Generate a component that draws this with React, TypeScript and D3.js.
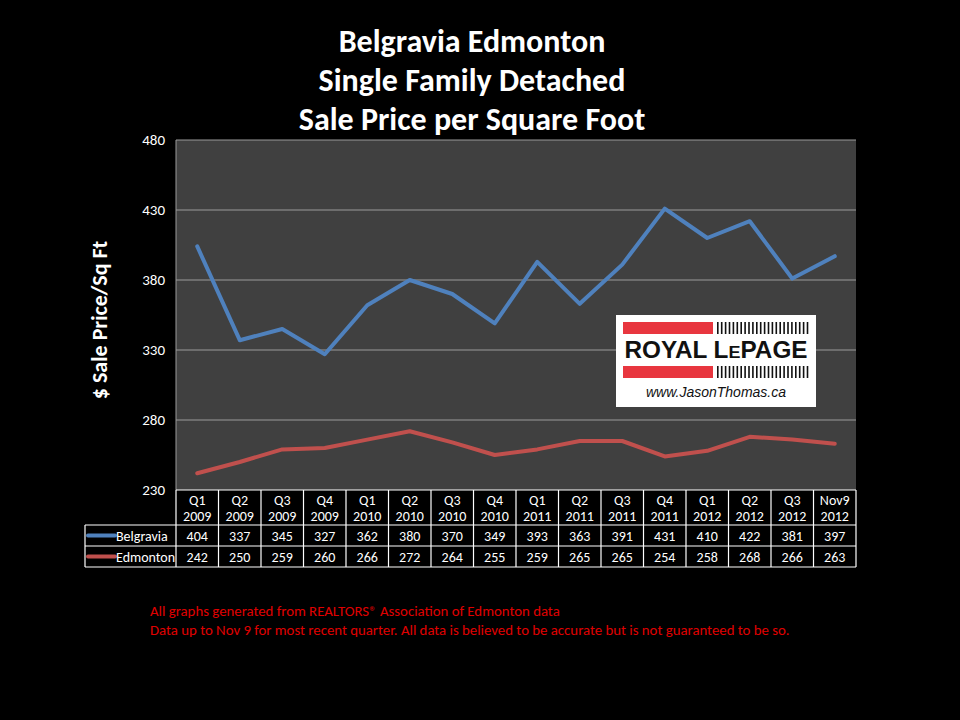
import * as d3 from 'd3'

const quarters = ['Q1', 'Q2', 'Q3', 'Q4', 'Q1', 'Q2', 'Q3', 'Q4', 'Q1', 'Q2', 'Q3', 'Q4', 'Q1', 'Q2', 'Q3', 'Nov9']
const years = ['2009', '2009', '2009', '2009', '2010', '2010', '2010', '2010', '2011', '2011', '2011', '2011', '2012', '2012', '2012', '2012']
const belgravia = [404, 337, 345, 327, 362, 380, 370, 349, 393, 363, 391, 431, 410, 422, 381, 397]
const edmonton = [242, 250, 259, 260, 266, 272, 264, 255, 259, 265, 265, 254, 258, 268, 266, 263]
const yTicks = [230, 280, 330, 380, 430, 480]

const series = [
  { name: 'Belgravia', values: belgravia, color: '#4F81BD' },
  { name: 'Edmonton', values: edmonton, color: '#C0504D' },
]

const titleLines = ['Belgravia Edmonton', 'Single Family Detached', 'Sale Price per Square Foot']
const notes = [
  'All graphs generated from REALTORS® Association of Edmonton data',
  'Data up to Nov 9  for most recent quarter. All data is believed to be accurate but is not guaranteed to be so.',
]

const font = 'Carlito, Calibri, "Open Sans", "Liberation Sans", sans-serif'

export default function App() {
  const W = 960
  const H = 720
  const left = 176
  const right = 856
  const top = 140
  const bottom = 490

  const labels = quarters.map((q, i) => `${q} ${years[i]} ${i}`)
  const x = d3.scaleBand().domain(labels).range([left, right])
  const y = d3.scaleLinear().domain([230, 480]).range([bottom, top])

  const line = d3
    .line<number>()
    .x((_, i) => (x(labels[i]) as number) + x.bandwidth() / 2)
    .y(d => y(d))

  const legendLeft = 85
  const headTop = bottom
  const headBottom = 525
  const rowH = 21

  return (
    <svg width={W} height={H} style={{ display: 'block', position: 'absolute', left: 0, top: 0, background: '#000' }}>
      <rect x={0} y={0} width={W} height={H} fill="#000" />
      {titleLines.map((t, i) => (
        <text key={t} x={472} y={52 + i * 39} textAnchor="middle" fill="#fff" fontFamily={font} fontWeight="bold" fontSize={32}>
          {t}
        </text>
      ))}

      {/* plot area */}
      <rect x={left} y={top} width={right - left} height={bottom - top} fill="#404040" />
      {yTicks.map(t => (
        <g key={t}>
          {t !== 230 && <line x1={left} x2={right} y1={y(t)} y2={y(t)} stroke="#9a9a9a" strokeWidth={1} />}
          <text x={165} y={y(t) + 5} textAnchor="end" fill="#fff" fontFamily={font} fontSize={15}>
            {t}
          </text>
        </g>
      ))}
      <line x1={left} x2={left} y1={top} y2={bottom} stroke="#9a9a9a" />

      {series.map(s => (
        <path key={s.name} d={line(s.values) ?? ''} fill="none" stroke={s.color} strokeWidth={4} strokeLinejoin="round" strokeLinecap="round" />
      ))}

      <text
        transform={`translate(107, 320) rotate(-90)`}
        textAnchor="middle"
        fill="#fff"
        fontFamily={font}
        fontWeight="bold"
        fontSize={22}
      >
        $ Sale Price/Sq Ft
      </text>

      {/* logo */}
      <g>
        <rect x={616} y={315} width={200} height={92} fill="#fff" />
        <rect x={623} y={322} width={90} height={12} fill="#E8363F" />
        <rect x={623} y={366} width={90} height={12} fill="#E8363F" />
        {d3.range(24).map(i => (
          <g key={i}>
            <rect x={717 + i * 3.9} y={322} width={1.6} height={12} fill="#111" />
            <rect x={717 + i * 3.9} y={366} width={1.6} height={12} fill="#111" />
          </g>
        ))}
        <text x={716} y={358} textAnchor="middle" fill="#111" fontFamily='"Liberation Sans", Arial, sans-serif' fontWeight="bold" fontSize={23} textLength={183} lengthAdjust="spacingAndGlyphs">
          ROYAL L<tspan fontSize={17}>E</tspan>PAGE
        </text>
        <text x={716} y={397} textAnchor="middle" fill="#111" fontFamily='"Liberation Sans", Arial, sans-serif' fontStyle="italic" fontSize={14}>
          www.JasonThomas.ca
        </text>
      </g>

      {/* data table */}
      <g fontFamily={font} fill="#fff">
        {labels.map((l, i) => {
          const cx = (x(l) as number) + x.bandwidth() / 2
          return (
            <g key={l}>
              <text x={cx} y={headTop + 15} textAnchor="middle" fontSize={14} fill="#fff">{quarters[i]}</text>
              <text x={cx} y={headTop + 31} textAnchor="middle" fontSize={14} fill="#fff">{years[i]}</text>
              {series.map((s, j) => (
                <text key={s.name} x={cx} y={headBottom + j * rowH + 15.5} textAnchor="middle" fontSize={14} fill="#fff">
                  {s.values[i]}
                </text>
              ))}
            </g>
          )
        })}
        {series.map((s, j) => (
          <g key={s.name}>
            <line x1={legendLeft + 3} x2={legendLeft + 30} y1={headBottom + j * rowH + 10.5} y2={headBottom + j * rowH + 10.5} stroke={s.color} strokeWidth={4} strokeLinecap="round" />
            <text x={legendLeft + 31} y={headBottom + j * rowH + 15.5} fontSize={14} fill="#fff">{s.name}</text>
          </g>
        ))}
        {/* grid */}
        <g stroke="#fff" strokeWidth={1.2} fill="none">
          {[...labels.map(l => x(l) as number), right].map((xx, i) => (
            <line key={i} x1={xx} x2={xx} y1={headTop} y2={headBottom + 2 * rowH} />
          ))}
          <line x1={legendLeft} x2={legendLeft} y1={headBottom} y2={headBottom + 2 * rowH} />
          <line x1={left} x2={right} y1={headTop} y2={headTop} />
          {[0, 1, 2].map(j => (
            <line key={j} x1={legendLeft} x2={right} y1={headBottom + j * rowH} y2={headBottom + j * rowH} />
          ))}
        </g>
      </g>

      {notes.map((n, i) => (
        <text key={i} x={150} y={616 + i * 19} fill="#E00000" fontFamily={font} fontSize={14.8}>
          {n}
        </text>
      ))}
    </svg>
  )
}
